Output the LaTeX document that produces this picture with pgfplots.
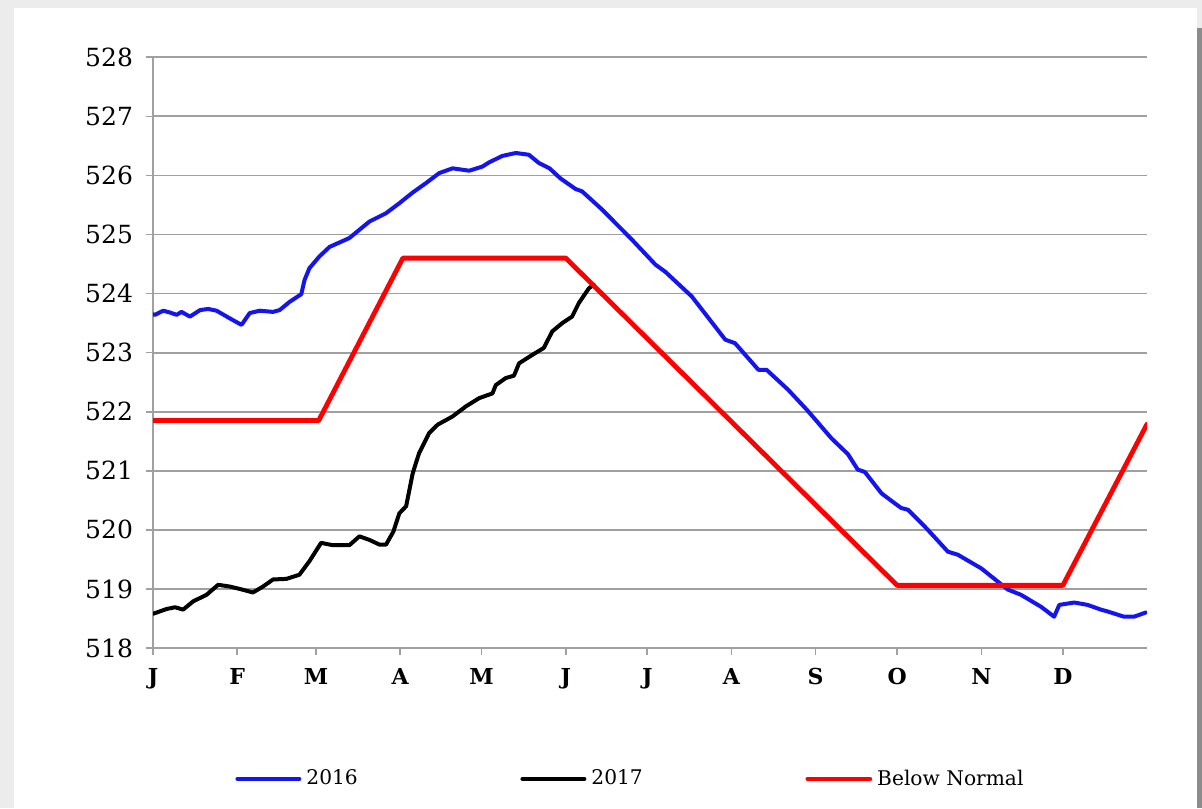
\documentclass[border=0pt]{standalone}
\usepackage{fontspec}
\setmainfont{DejaVu Serif}
\usepackage{pgfplots}
\pgfplotsset{compat=1.18}
\definecolor{bgout}{RGB}{236,236,236}
\definecolor{edgec}{RGB}{140,140,140}
\definecolor{gridc}{RGB}{160,160,160}
\definecolor{myblue}{RGB}{20,20,240}
\definecolor{myred}{RGB}{255,0,0}
\begin{document}
\begin{tikzpicture}
\useasboundingbox (0,0) rectangle (601pt,404pt);
\fill[bgout] (0,0) rectangle (601pt,404pt);
\fill[white] (7pt,0) rectangle (598.5pt,400pt);
\fill[edgec] (598.5pt,0) rectangle (601pt,390pt);
\begin{axis}[
  at={(76.5pt,80pt)}, anchor=south west,
  width=497pt, height=295.35pt, scale only axis,
  xmin=0, xmax=366, ymin=518, ymax=528,
  axis x line*=bottom, axis y line*=left,
  axis line style={gridc, line width=0.9pt},
  ytick={518,519,...,528},
  ymajorgrids, grid style={gridc, line width=0.9pt},
  xtick={0,31,60,91,121,152,182,213,244,274,305,335},
  xticklabels={J,F,M,A,M,J,J,A,S,O,N,D},
  tick align=outside, major tick length=3.5pt,
  tick style={gridc, line width=0.8pt},
  /pgf/number format/assume math mode=true,
  /pgf/number format/1000 sep={},
  yticklabel style={font=\fontsize{12.5}{14}\selectfont, xshift=-3pt},
  xticklabel style={font=\fontsize{11}{13}\selectfont\bfseries, yshift=-3pt},
  legend columns=3,
  legend style={at={(0.0825,-0.2217)}, anchor=west, draw=none, fill=none,
    inner sep=0pt, font=\fontsize{10.1}{12}\selectfont,
    nodes={inner sep=0pt},
    /tikz/every odd column/.append style={column sep=2.5pt}},
  legend cell align=left,
  legend image code/.code={\draw[#1] (0pt,0pt) -- (31pt,0pt);},
  every axis plot/.append style={line join=round, line cap=round},
]
\addplot[myblue, line width=2pt] coordinates {
(0,523.65) (0.7,523.64) (3.8,523.71) (6.2,523.68) (8.7,523.64) (10.5,523.69)
(13.6,523.61) (17.3,523.72) (20.3,523.74) (23.4,523.71) (28.3,523.58)
(32.6,523.47) (35.6,523.67) (39.3,523.71) (44.2,523.69) (46.6,523.72)
(50.3,523.86) (54.6,523.99) (55.8,524.23) (57.6,524.43) (61.3,524.63)
(65.0,524.79) (72.3,524.94) (76.0,525.08) (79.7,525.22) (85.8,525.36)
(90.7,525.53) (95.6,525.71) (100.5,525.87) (105.4,526.04) (110.3,526.12)
(116.4,526.08) (121.3,526.15) (123.7,526.22) (128.6,526.33) (133.6,526.38)
(138.4,526.35) (142.1,526.21) (146,526.12) (150,525.95) (155.6,525.77)
(158.0,525.73) (163.5,525.50) (165.4,525.42) (176.4,524.91) (185.0,524.49)
(188.6,524.37) (198.4,523.95) (210.7,523.22) (214.3,523.16) (222.9,522.71)
(225.9,522.71) (233.9,522.37) (241,522.02) (249.8,521.55) (255.9,521.28)
(259.5,521.02) (262.1,520.98) (268.2,520.62) (273.1,520.45) (275.5,520.37)
(278,520.34) (284.1,520.06) (292.7,519.63) (296.3,519.58) (304.9,519.35)
(314.7,518.99) (319.6,518.90) (326.9,518.70) (331.8,518.53) (333.7,518.73)
(339.2,518.77) (344.1,518.73) (349.0,518.65) (351.4,518.62) (357.5,518.53)
(361.2,518.53) (364.3,518.58) (365.5,518.60)
};
\addlegendentry{\makebox[107pt][l]{2016}}
\addplot[black, line width=2pt] coordinates {
(0,518.58) (0.7,518.59) (5.0,518.66) (8.1,518.69) (11.1,518.65) (14.8,518.79)
(19.7,518.90) (24.0,519.07) (28.3,519.04) (31.9,519.00) (36.8,518.94)
(40.5,519.04) (44.2,519.16) (49.1,519.17) (53.9,519.24) (57.6,519.47)
(61.9,519.78) (66.2,519.74) (72.3,519.74) (76.0,519.89) (79.7,519.83)
(83.4,519.75) (85.8,519.75) (88.5,519.97) (90.7,520.28) (93.2,520.40)
(95.6,520.95) (96.8,521.13) (98.0,521.30) (101.7,521.64) (104.8,521.78)
(110.3,521.92) (115.2,522.09) (120.1,522.23) (125.0,522.31) (126.2,522.45)
(129.9,522.57) (132.9,522.61) (134.8,522.82) (139.6,522.96) (143.9,523.08)
(147.0,523.36) (150.7,523.50) (154.3,523.61) (156.8,523.84) (160.5,524.09)
(162.3,524.15)
};
\addlegendentry{\makebox[107pt][l]{2017}}
\addplot[myred, line width=2.4pt] coordinates {
(0,521.85) (61,521.85) (92,524.60) (152,524.60) (274,519.06) (335,519.06) (366,521.79)
};
\addlegendentry{Below Normal}
\end{axis}
\end{tikzpicture}
\end{document}
